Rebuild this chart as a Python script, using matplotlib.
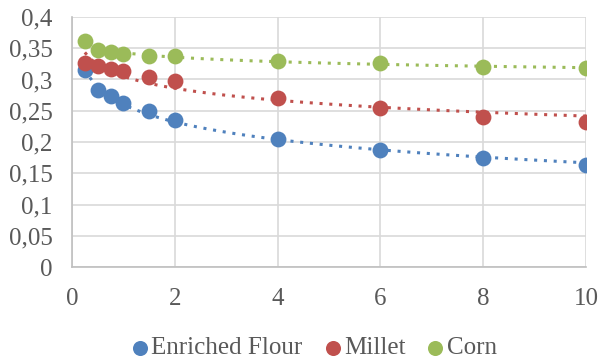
import numpy as np
import matplotlib
matplotlib.use('Agg')
import matplotlib.pyplot as plt
from matplotlib.ticker import FuncFormatter
from matplotlib.font_manager import FontProperties

x = [0.25, 0.5, 0.75, 1, 1.5, 2, 4, 6, 8, 10]
flour = [0.315, 0.283, 0.273, 0.262, 0.249, 0.235, 0.205, 0.187, 0.175, 0.163]
millet = [0.327, 0.322, 0.317, 0.313, 0.304, 0.297, 0.271, 0.254, 0.240, 0.232]
corn = [0.362, 0.347, 0.344, 0.341, 0.338, 0.337, 0.330, 0.326, 0.320, 0.319]

names = ['Enriched Flour', 'Millet', 'Corn']
colors = ['#4F81BD', '#C0504D', '#9BBB59']

plt.rcParams['font.family'] = ['Liberation Serif', 'DejaVu Serif']

fig = plt.figure(figsize=(6.01, 3.6), dpi=100)
ax = fig.add_axes([72 / 601, 1 - 267 / 360, 514 / 601, 250 / 360])

xs = np.linspace(min(x), max(x), 200)
for name, ys, c in zip(names, [flour, millet, corn], colors):
    # logarithmic trendline, like the spreadsheet one
    a, b = np.polyfit(np.log(x), ys, 1)
    ax.plot(xs, a * np.log(xs) + b, linestyle=(0, (1, 2.2)), color=c, linewidth=2.2, zorder=2)
    ax.scatter(x, ys, s=130, color=c, label=name, zorder=3, linewidths=0)

ax.set_xlim(0, 10)
ax.set_ylim(0, 0.4)
ax.set_xticks([0, 2, 4, 6, 8, 10])
ax.set_yticks(np.arange(0, 0.401, 0.05))
ax.yaxis.set_major_formatter(FuncFormatter(
    lambda v, p: '0' if v == 0 else f'{v:.2f}'.rstrip('0').replace('.', ',')))

ax.grid(True, color='#D9D9D9', linewidth=1.2)
ax.set_axisbelow(True)
for s in ['top', 'right']:
    ax.spines[s].set_visible(False)
for s in ['left', 'bottom']:
    ax.spines[s].set_color('#BFBFBF')
    ax.spines[s].set_linewidth(1.2)
ax.tick_params(length=0, labelsize=18, colors='#595959')
ax.tick_params(axis='y', pad=14)
ax.tick_params(axis='x', pad=15)

leg_font = FontProperties(family='Liberation Serif', size=18)
ax.legend(loc='center', bbox_to_anchor=(0.455, -0.325), ncol=3, frameon=False,
          prop=leg_font, handletextpad=-0.55, columnspacing=0.2, markerscale=0.95,
          labelcolor='#595959', borderaxespad=0)

fig.savefig('out.png', dpi=100, facecolor='white')
